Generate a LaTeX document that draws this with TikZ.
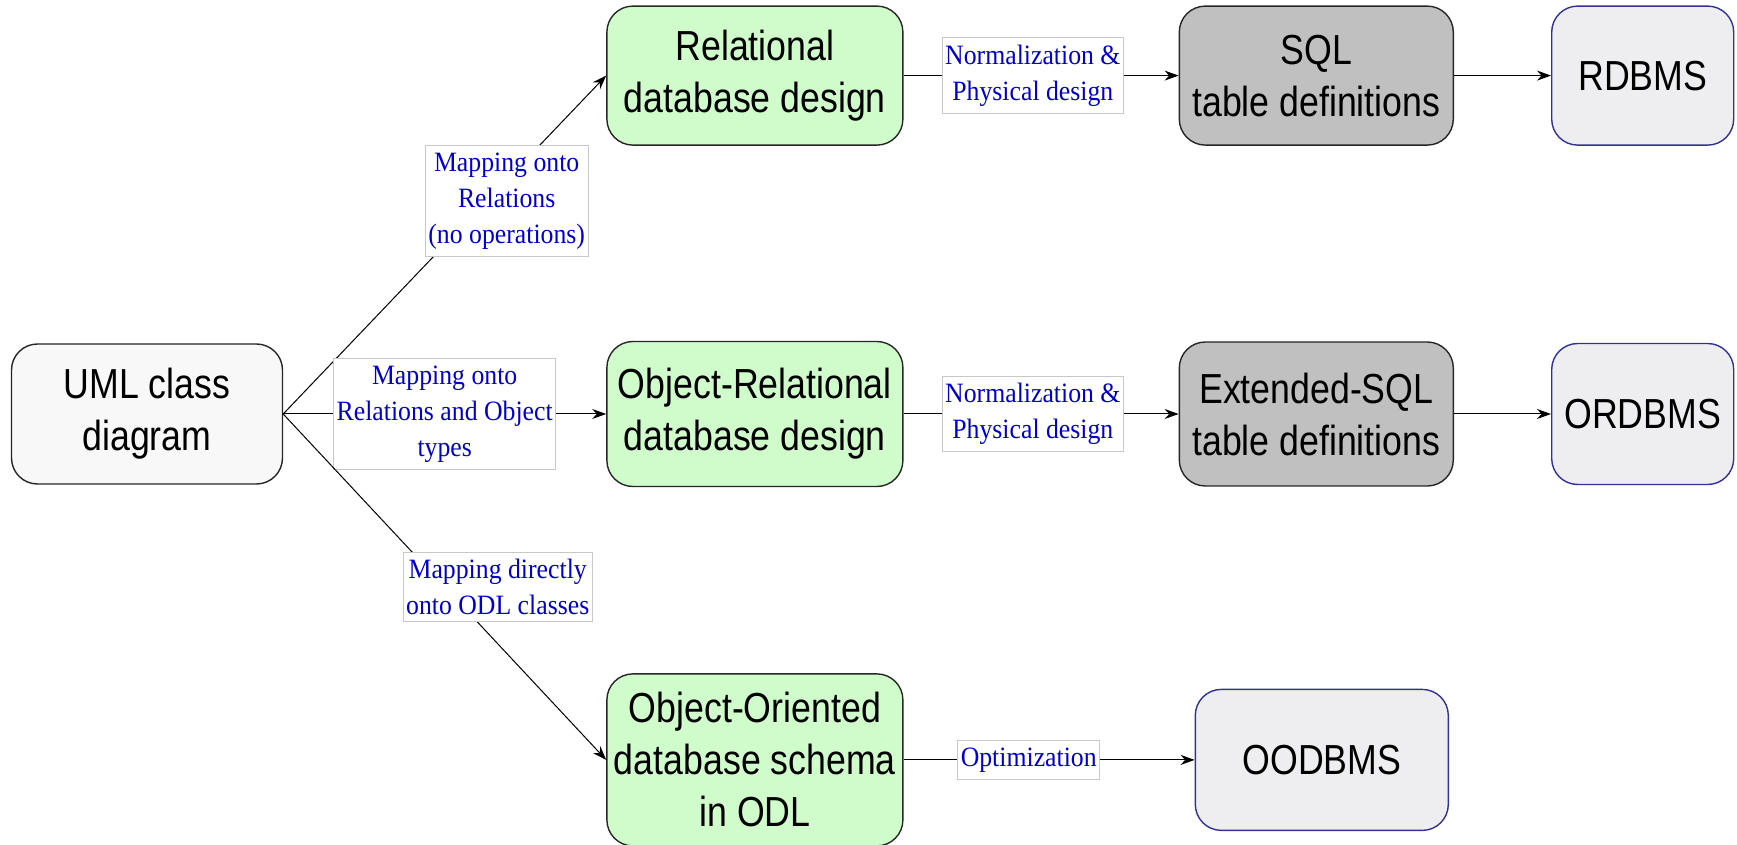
\documentclass[tikz,border=0pt]{standalone}
\usepackage{fontspec}
\newfontfamily\boxfam[FakeStretch=0.85]{Liberation Sans}
\newfontfamily\lblfam[FakeStretch=0.92]{Liberation Serif}
\usetikzlibrary{arrows.meta,positioning}

\definecolor{umlfill}{RGB}{248,248,248}
\definecolor{designfill}{RGB}{208,252,204}
\definecolor{sqlfill}{RGB}{192,192,192}
\definecolor{dbmsfill}{RGB}{238,238,240}
\definecolor{dbmsline}{RGB}{50,50,150}
\definecolor{lblblue}{RGB}{0,0,200}
\definecolor{lblline}{RGB}{200,200,200}

\tikzset{
  box/.style={draw=black!85, line width=0.7pt, rounded corners=13pt, align=center,
    font=\boxfam\fontsize{21}{26}\selectfont, minimum height=70pt, inner sep=2pt},
  umlbox/.style={box, fill=umlfill, minimum width=135.5pt},
  designbox/.style={box, fill=designfill, minimum width=148pt},
  sqlbox/.style={box, fill=sqlfill, minimum width=137pt},
  dbmsbox/.style={box, draw=dbmsline, fill=dbmsfill, minimum width=91pt},
  maplabel/.style={draw=lblline, line width=0.5pt, fill=white, text=lblblue, align=center,
    font=\lblfam\fontsize{14}{18}\selectfont, inner xsep=1.5pt, inner ysep=3.5pt}
}

\begin{document}
\begin{tikzpicture}[x=0.5pt,y=-0.5pt,>={Stealth[length=7pt,width=5pt]},line width=0.5pt]

                \useasboundingbox (0,0) rectangle (1737,845);

                \node[umlbox] (uml) at (147,414) {UML class\\diagram};

                \node[designbox,minimum height=72.5pt] (objrel) [right=161.5pt of uml] {Object-Relational\\database design};

                \node[designbox,minimum height=69.5pt] (rel) [above=97.5pt of objrel] {Relational\\database design};

                \node[designbox,minimum height=86pt] (oo) [below=93pt of objrel] {Object-Oriented\\database schema\\in ODL};

                \node[sqlbox,minimum height=69.5pt] (sql) [right=137.5pt of rel] {SQL\\table definitions};

                \node[sqlbox,minimum height=72pt] (extsql) [right=137.5pt of objrel] {Extended-SQL\\table definitions};

                \node[dbmsbox,minimum height=69.5pt] (rdbms) [right=48.5pt of sql] {RDBMS};

                \node[dbmsbox,minimum height=70.5pt] (ordbms) [right=48.5pt of extsql] {ORDBMS};

                \node[dbmsbox,minimum width=126.5pt,minimum height=70.5pt] (oodbms) [right=145.5pt of oo] {OODBMS};

                

                \path[->] (uml.east) edge node[maplabel,pos=0.63,xshift=10pt] {Mapping onto\\Relations\\(no operations)} (rel.west)

                                     edge node[maplabel] {Mapping onto\\Relations and Object\\types} (objrel.west)

                                     edge node[maplabel,xshift=26.5pt] {Mapping directly\\onto ODL classes} (oo.west)

                          (rel) edge node[maplabel,pos=0.47] {Normalization \&\\Physical design} (sql)

                          (sql) edge (rdbms)

                          (objrel) edge node[maplabel,pos=0.47] {Normalization \&\\Physical design} (extsql)

                          (extsql) edge (ordbms)

                          (oo) edge node[maplabel,pos=0.43] {Optimization} (oodbms);

            \end{tikzpicture}
\end{document}
